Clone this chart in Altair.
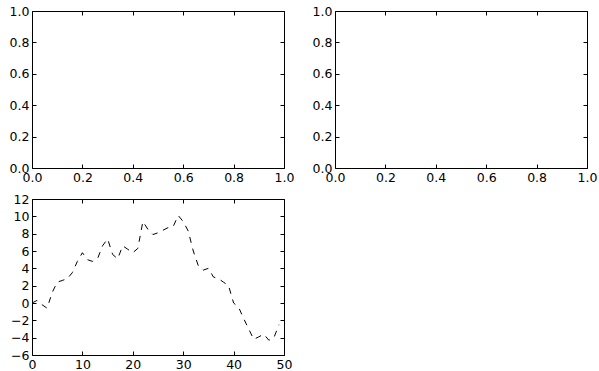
import altair as alt
import pandas as pd

# ---- data ----
walk_x = list(range(50))
walk_y = [0.0, 0.3, -0.2, -0.6, 1.2, 2.4, 2.6, 2.8, 3.5, 4.8,
          5.8, 5.0, 4.8, 5.1, 6.6, 7.4, 5.6, 5.1, 6.6, 6.2,
          5.8, 6.3, 9.4, 8.5, 7.9, 8.1, 8.4, 8.7, 8.8, 10.1,
          9.4, 8.3, 6.0, 4.3, 3.8, 4.0, 3.0, 2.8, 2.4, 2.0,
          0.0, -0.5, -1.8, -3.0, -4.2, -3.9, -3.6, -4.3, -4.0, -2.5]
unit_ticks = [0.0, 0.2, 0.4, 0.6, 0.8, 1.0]
walk_x_ticks = [0, 10, 20, 30, 40, 50]
walk_y_ticks = [-6, -4, -2, 0, 2, 4, 6, 8, 10, 12]
empty_x = [0.0, 1.0]
empty_y = [0.0, 1.0]

FONT = "DejaVu Sans"
FS = 12.5


def axis(orient, values, fmt, labels=True):
    return alt.Axis(orient=orient, values=values, format=fmt, labels=labels,
                    domain=False, grid=False, ticks=True, tickSize=4,
                    tickColor="black", tickWidth=1, offset=-4,
                    labelFont=FONT, labelFontSize=FS, labelColor="black",
                    labelPadding=3, labelFlush=False, labelOverlap=False,
                    labelBound=False, title=None)


def panel(df, xdom, ydom, xt, yt, xfmt, yfmt, line=False, w=252, h=157):
    xs = alt.Scale(domain=xdom, nice=False, zero=False)
    ys = alt.Scale(domain=ydom, nice=False, zero=False)
    base = alt.Chart(df)
    if line:
        mark = base.mark_line(color="black", strokeWidth=1, strokeDash=[6, 6], clip=True)
    else:
        mark = base.mark_point(opacity=0)
    main = mark.encode(
        x=alt.X("x:Q", scale=xs, axis=axis("bottom", xt, xfmt)),
        y=alt.Y("y:Q", scale=ys, axis=axis("left", yt, yfmt)),
    )
    mirror = base.mark_point(opacity=0).encode(
        x=alt.X("x:Q", scale=xs, axis=axis("top", xt, xfmt, False)),
        y=alt.Y("y:Q", scale=ys, axis=axis("right", yt, yfmt, False)),
    )
    return alt.layer(main, mirror).resolve_axis(x="independent", y="independent").properties(width=w, height=h)


empty_df = pd.DataFrame({"x": empty_x, "y": empty_y})
walk_df = pd.DataFrame({"x": walk_x, "y": walk_y})

p1 = panel(empty_df, [0, 1], [0, 1], unit_ticks, unit_ticks, ".1f", ".1f")
p2 = panel(empty_df, [0, 1], [0, 1], unit_ticks, unit_ticks, ".1f", ".1f")
p3 = panel(walk_df, [0, 50], [-6, 12], walk_x_ticks, walk_y_ticks, "d", "d", line=True, h=156)

chart = alt.concat(p1, p2, p3, columns=2,
                   spacing=alt.RowColnumber(row=31, column=51),
                   bounds="flush").properties(
    padding={"left": 8, "top": 4, "right": 0, "bottom": 0},
    background="white",
).configure_view(stroke="black", strokeWidth=1)

chart.save("out.html", embed_options={"renderer": "svg", "actions": False})
